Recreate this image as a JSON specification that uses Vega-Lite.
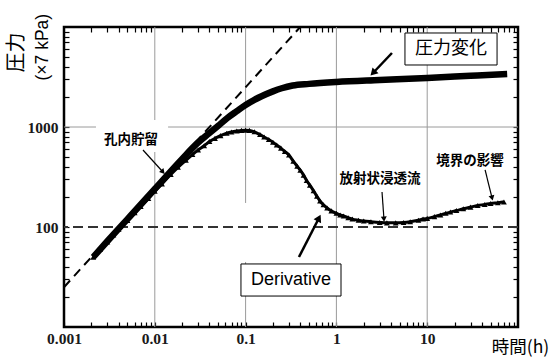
{
  "$schema": "https://vega.github.io/schema/vega-lite/v6.json",
  "width": 454,
  "height": 300,
  "autosize": "none",
  "padding": {"left": 64, "top": 27, "right": 35, "bottom": 31},
  "background": "white",
  "config": {
    "view": {"stroke": "black", "strokeWidth": 2.5},
    "axis": {"domain": false, "grid": false}
  },
  "datasets": {
    "gridx": [{"t": 0.01}, {"t": 0.1}, {"t": 1}, {"t": 10}],
    "gridy": [{"v": 1000}],
    "pressure": [
      {"t": 0.0021, "v": 50}, {"t": 0.003, "v": 72}, {"t": 0.005, "v": 120}, {"t": 0.01, "v": 240},
      {"t": 0.02, "v": 480}, {"t": 0.03, "v": 700}, {"t": 0.04, "v": 870}, {"t": 0.05, "v": 1030},
      {"t": 0.063, "v": 1230}, {"t": 0.08, "v": 1440}, {"t": 0.1, "v": 1660}, {"t": 0.125, "v": 1870},
      {"t": 0.15, "v": 2030}, {"t": 0.2, "v": 2270}, {"t": 0.25, "v": 2440}, {"t": 0.33, "v": 2600},
      {"t": 0.5, "v": 2700}, {"t": 1, "v": 2820}, {"t": 3, "v": 2950}, {"t": 10, "v": 3090},
      {"t": 30, "v": 3250}, {"t": 76, "v": 3390}
    ],
    "derivative": [
      {"t": 0.0021, "v": 50}, {"t": 0.0025, "v": 60}, {"t": 0.003, "v": 71}, {"t": 0.0035, "v": 83},
      {"t": 0.004, "v": 95}, {"t": 0.005, "v": 116}, {"t": 0.006, "v": 139}, {"t": 0.007, "v": 160},
      {"t": 0.0085, "v": 193}, {"t": 0.01, "v": 228}, {"t": 0.012, "v": 270}, {"t": 0.015, "v": 335},
      {"t": 0.018, "v": 395}, {"t": 0.022, "v": 465}, {"t": 0.026, "v": 530}, {"t": 0.03, "v": 590},
      {"t": 0.035, "v": 650}, {"t": 0.04, "v": 715}, {"t": 0.046, "v": 770}, {"t": 0.053, "v": 820},
      {"t": 0.062, "v": 865}, {"t": 0.07, "v": 892}, {"t": 0.08, "v": 912}, {"t": 0.09, "v": 925},
      {"t": 0.1, "v": 930}, {"t": 0.11, "v": 925}, {"t": 0.125, "v": 895}, {"t": 0.144, "v": 840},
      {"t": 0.16, "v": 795}, {"t": 0.18, "v": 750}, {"t": 0.2, "v": 705}, {"t": 0.22, "v": 660},
      {"t": 0.245, "v": 615}, {"t": 0.27, "v": 570}, {"t": 0.3, "v": 525}, {"t": 0.335, "v": 455},
      {"t": 0.37, "v": 405}, {"t": 0.4, "v": 370}, {"t": 0.435, "v": 330}, {"t": 0.47, "v": 292},
      {"t": 0.51, "v": 262}, {"t": 0.56, "v": 230}, {"t": 0.61, "v": 203}, {"t": 0.66, "v": 182},
      {"t": 0.72, "v": 167}, {"t": 0.79, "v": 155}, {"t": 0.88, "v": 145}, {"t": 1.0, "v": 137},
      {"t": 1.1, "v": 132}, {"t": 1.2, "v": 129}, {"t": 1.35, "v": 124}, {"t": 1.5, "v": 120},
      {"t": 1.75, "v": 117}, {"t": 2, "v": 115}, {"t": 2.4, "v": 113}, {"t": 3, "v": 111},
      {"t": 3.6, "v": 110}, {"t": 4.5, "v": 110}, {"t": 5.5, "v": 111}, {"t": 6.5, "v": 113},
      {"t": 8, "v": 117}, {"t": 9, "v": 120}, {"t": 10, "v": 122}, {"t": 12, "v": 127},
      {"t": 14, "v": 132}, {"t": 16, "v": 137}, {"t": 18, "v": 141}, {"t": 21, "v": 146},
      {"t": 25, "v": 152}, {"t": 30, "v": 158}, {"t": 36, "v": 164}, {"t": 43, "v": 168},
      {"t": 50, "v": 172}, {"t": 60, "v": 175}, {"t": 70, "v": 178}
    ],
    "slope": [{"t": 0.001, "v": 25}, {"t": 0.4, "v": 10000}],
    "flat": [{"v": 100}],
    "whiteouts": [
      {"t": 0.00225, "t2": 0.014, "v": 562, "v2": 1175},
      {"t": 0.0867, "t2": 0.1172, "v": 44.7, "v2": 174}
    ],
    "boxes": [
      {"t": 5.69, "t2": 58.8, "v": 4170, "v2": 8710},
      {"t": 0.0889, "t2": 1.124, "v": 20.4, "v2": 42.7}
    ],
    "boxJP": [{"t": 18.3, "v": 6026, "label": "圧力変化"}],
    "boxEN": [{"t": 0.316, "v": 29.5, "label": "Derivative"}],
    "notes": [
      {"t": 0.00547, "v": 741, "label": "孔内貯留"},
      {"t": 3.02, "v": 305, "label": "放射状浸透流"},
      {"t": 29.6, "v": 452, "label": "境界の影響"}
    ],
    "arrowsThick": [
      {"t": 4.09, "v": 5495, "t2": 2.53, "v2": 3467, "a": 224},
      {"t": 0.387, "v": 50.1, "t2": 0.643, "v2": 123, "a": 27}
    ],
    "arrowsThin": [
      {"t": 0.00741, "v": 589, "t2": 0.0123, "v2": 355, "a": 138},
      {"t": 3.18, "v": 224, "t2": 3.34, "v2": 120, "a": 176},
      {"t": 43.4, "v": 372, "t2": 51.8, "v2": 195, "a": 166}
    ]
  },
  "layer": [
    {
      "data": {"name": "gridx"},
      "mark": {"type": "rule", "color": "#9a9a9a", "strokeWidth": 1},
      "encoding": {
        "x": {
          "field": "t", "type": "quantitative",
          "scale": {"type": "log", "domain": [0.001, 100], "nice": false},
          "axis": {
            "orient": "bottom",
            "values": [0.001, 0.002, 0.003, 0.004, 0.005, 0.006, 0.007, 0.008, 0.009, 0.01, 0.02, 0.03, 0.04, 0.05, 0.06, 0.07, 0.08, 0.09, 0.1, 0.2, 0.3, 0.4, 0.5, 0.6, 0.7, 0.8, 0.9, 1, 2, 3, 4, 5, 6, 7, 8, 9, 10, 20, 30, 40, 50, 60, 70, 80, 90],
            "tickSize": -5, "tickColor": "black", "tickWidth": 1.2,
            "labelExpr": "indexof([0.001, 0.01, 0.1, 1, 10], datum.value) >= 0 ? format(datum.value, '~g') : ''",
            "labelFont": "Liberation Serif", "labelFontWeight": "bold", "labelFontSize": 15.5,
            "labelColor": "#1a1a1a", "labelPadding": 9, "labelFlush": false, "labelOverlap": false,
            "title": "時間(h)", "titleFont": "Noto Sans CJK JP", "titleFontSize": 17.5, "titleFontWeight": "normal",
            "titleColor": "black", "titleX": 456, "titleY": 20, "titleAlign": "center", "titleBaseline": "middle"
          }
        }
      }
    },
    {
      "data": {"name": "gridy"},
      "mark": {"type": "rule", "color": "#9a9a9a", "strokeWidth": 1},
      "encoding": {
        "y": {
          "field": "v", "type": "quantitative",
          "scale": {"type": "log", "domain": [10, 10000], "nice": false},
          "axis": {
            "orient": "left",
            "values": [20, 30, 40, 50, 60, 70, 80, 90, 100, 200, 300, 400, 500, 600, 700, 800, 900, 1000, 2000, 3000, 4000, 5000, 6000, 7000, 8000, 9000],
            "tickSize": -5, "tickColor": "black", "tickWidth": 1.2,
            "labelExpr": "datum.value == 100 || datum.value == 1000 ? format(datum.value, 'd') : ''",
            "labelFont": "Liberation Serif", "labelFontWeight": "bold", "labelFontSize": 15.5,
            "labelColor": "#1a1a1a", "labelPadding": 11, "labelOverlap": false,
            "title": "(×7 kPa)", "titleFont": "Liberation Sans", "titleFontSize": 17.5, "titleFontWeight": "normal",
            "titleColor": "black", "titleX": -21.5, "titleY": 19.7, "titleAngle": -90,
            "titleAlign": "center", "titleBaseline": "middle"
          }
        }
      }
    },
    {
      "data": {"name": "whiteouts"},
      "mark": {"type": "rect", "color": "white"},
      "encoding": {
        "x": {"field": "t", "type": "quantitative", "scale": {"type": "log", "domain": [0.001, 100], "nice": false}, "axis": null},
        "x2": {"field": "t2"},
        "y": {"field": "v", "type": "quantitative", "scale": {"type": "log", "domain": [10, 10000], "nice": false}, "axis": null},
        "y2": {"field": "v2"}
      }
    },
    {
      "data": {"name": "flat"},
      "mark": {"type": "rule", "color": "#333", "strokeWidth": 2, "strokeDash": [10, 5]},
      "encoding": {
        "y": {"field": "v", "type": "quantitative", "scale": {"type": "log", "domain": [10, 10000], "nice": false}, "axis": null}
      }
    },
    {
      "data": {"name": "slope"},
      "mark": {"type": "line", "color": "black", "strokeWidth": 2, "strokeDash": [9, 6]},
      "encoding": {
        "x": {"field": "t", "type": "quantitative", "scale": {"type": "log", "domain": [0.001, 100], "nice": false}, "axis": null},
        "y": {"field": "v", "type": "quantitative", "scale": {"type": "log", "domain": [10, 10000], "nice": false}, "axis": null}
      }
    },
    {
      "data": {"name": "pressure"},
      "mark": {"type": "line", "color": "black", "strokeWidth": 6.5, "interpolate": "monotone", "strokeCap": "butt"},
      "encoding": {
        "x": {
          "field": "t", "type": "quantitative",
          "scale": {"type": "log", "domain": [0.001, 100], "nice": false},
          "axis": {
            "orient": "top",
            "values": [0.002, 0.003, 0.004, 0.005, 0.006, 0.007, 0.008, 0.009, 0.02, 0.03, 0.04, 0.05, 0.06, 0.07, 0.08, 0.09, 0.2, 0.3, 0.4, 0.5, 0.6, 0.7, 0.8, 0.9, 2, 3, 4, 5, 6, 7, 8, 9, 20, 30, 40, 50, 60, 70, 80, 90],
            "tickSize": -5, "tickColor": "black", "tickWidth": 1.2, "labels": false, "title": null
          }
        },
        "y": {
          "field": "v", "type": "quantitative",
          "scale": {"type": "log", "domain": [10, 10000], "nice": false},
          "axis": {
            "orient": "right",
            "values": [20, 30, 40, 50, 60, 70, 80, 90, 100, 200, 300, 400, 500, 600, 700, 800, 900, 1000, 2000, 3000, 4000, 5000, 6000, 7000, 8000, 9000],
            "tickSize": -5, "tickColor": "black", "tickWidth": 1.2, "labels": false,
            "title": "圧力", "titleFont": "Noto Sans CJK JP", "titleFontSize": 20, "titleFontWeight": "normal",
            "titleColor": "black", "titleX": -502, "titleY": 25, "titleAngle": -90,
            "titleAlign": "center", "titleBaseline": "middle"
          }
        }
      }
    },
    {
      "data": {"name": "derivative"},
      "mark": {"type": "line", "color": "black", "strokeWidth": 3, "interpolate": "monotone"},
      "encoding": {
        "x": {"field": "t", "type": "quantitative", "scale": {"type": "log", "domain": [0.001, 100], "nice": false}, "axis": null},
        "y": {"field": "v", "type": "quantitative", "scale": {"type": "log", "domain": [10, 10000], "nice": false}, "axis": null}
      }
    },
    {
      "data": {"name": "derivative"},
      "mark": {"type": "point", "shape": "triangle-up", "filled": true, "color": "black", "size": 34, "opacity": 1},
      "encoding": {
        "x": {"field": "t", "type": "quantitative", "scale": {"type": "log", "domain": [0.001, 100], "nice": false}, "axis": null},
        "y": {"field": "v", "type": "quantitative", "scale": {"type": "log", "domain": [10, 10000], "nice": false}, "axis": null}
      }
    },
    {
      "data": {"name": "boxes"},
      "mark": {"type": "rect", "fill": "white", "stroke": "black", "strokeWidth": 1},
      "encoding": {
        "x": {"field": "t", "type": "quantitative", "scale": {"type": "log", "domain": [0.001, 100], "nice": false}, "axis": null},
        "x2": {"field": "t2"},
        "y": {"field": "v", "type": "quantitative", "scale": {"type": "log", "domain": [10, 10000], "nice": false}, "axis": null},
        "y2": {"field": "v2"}
      }
    },
    {
      "data": {"name": "boxJP"},
      "mark": {"type": "text", "font": "Noto Sans CJK JP", "fontSize": 18, "color": "black", "align": "center", "baseline": "middle"},
      "encoding": {
        "x": {"field": "t", "type": "quantitative", "scale": {"type": "log", "domain": [0.001, 100], "nice": false}, "axis": null},
        "y": {"field": "v", "type": "quantitative", "scale": {"type": "log", "domain": [10, 10000], "nice": false}, "axis": null},
        "text": {"field": "label"}
      }
    },
    {
      "data": {"name": "boxEN"},
      "mark": {"type": "text", "font": "Liberation Sans", "fontSize": 18, "color": "black", "align": "center", "baseline": "middle"},
      "encoding": {
        "x": {"field": "t", "type": "quantitative", "scale": {"type": "log", "domain": [0.001, 100], "nice": false}, "axis": null},
        "y": {"field": "v", "type": "quantitative", "scale": {"type": "log", "domain": [10, 10000], "nice": false}, "axis": null},
        "text": {"field": "label"}
      }
    },
    {
      "data": {"name": "notes"},
      "mark": {"type": "text", "font": "Noto Sans CJK JP", "fontSize": 13.5, "fontWeight": "bold", "color": "black", "align": "center", "baseline": "middle"},
      "encoding": {
        "x": {"field": "t", "type": "quantitative", "scale": {"type": "log", "domain": [0.001, 100], "nice": false}, "axis": null},
        "y": {"field": "v", "type": "quantitative", "scale": {"type": "log", "domain": [10, 10000], "nice": false}, "axis": null},
        "text": {"field": "label"}
      }
    },
    {
      "data": {"name": "arrowsThick"},
      "mark": {"type": "rule", "color": "black", "strokeWidth": 2.5},
      "encoding": {
        "x": {"field": "t", "type": "quantitative", "scale": {"type": "log", "domain": [0.001, 100], "nice": false}, "axis": null},
        "x2": {"field": "t2"},
        "y": {"field": "v", "type": "quantitative", "scale": {"type": "log", "domain": [10, 10000], "nice": false}, "axis": null},
        "y2": {"field": "v2"}
      }
    },
    {
      "data": {"name": "arrowsThin"},
      "mark": {"type": "rule", "color": "black", "strokeWidth": 1.2},
      "encoding": {
        "x": {"field": "t", "type": "quantitative", "scale": {"type": "log", "domain": [0.001, 100], "nice": false}, "axis": null},
        "x2": {"field": "t2"},
        "y": {"field": "v", "type": "quantitative", "scale": {"type": "log", "domain": [10, 10000], "nice": false}, "axis": null},
        "y2": {"field": "v2"}
      }
    },
    {
      "data": {"name": "arrowsThick"},
      "mark": {"type": "point", "shape": "triangle-up", "filled": true, "color": "black", "size": 70, "opacity": 1},
      "encoding": {
        "x": {"field": "t2", "type": "quantitative", "scale": {"type": "log", "domain": [0.001, 100], "nice": false}, "axis": null},
        "y": {"field": "v2", "type": "quantitative", "scale": {"type": "log", "domain": [10, 10000], "nice": false}, "axis": null},
        "angle": {"field": "a", "type": "quantitative", "scale": null}
      }
    },
    {
      "data": {"name": "arrowsThin"},
      "mark": {"type": "point", "shape": "triangle-up", "filled": true, "color": "black", "size": 35, "opacity": 1},
      "encoding": {
        "x": {"field": "t2", "type": "quantitative", "scale": {"type": "log", "domain": [0.001, 100], "nice": false}, "axis": null},
        "y": {"field": "v2", "type": "quantitative", "scale": {"type": "log", "domain": [10, 10000], "nice": false}, "axis": null},
        "angle": {"field": "a", "type": "quantitative", "scale": null}
      }
    }
  ],
  "resolve": {"axis": {"x": "independent", "y": "independent"}}
}
